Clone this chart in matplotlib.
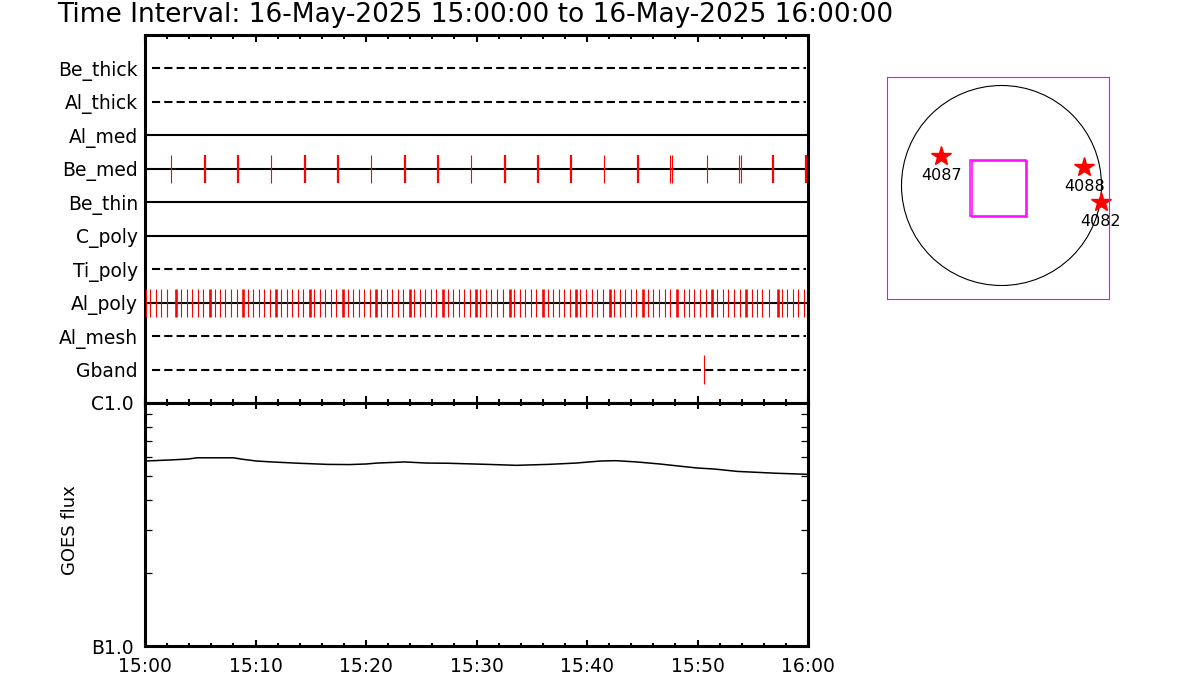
import numpy as np
import matplotlib
matplotlib.use('Agg')
import matplotlib.pyplot as plt
from matplotlib.ticker import MultipleLocator, FixedLocator, LogLocator, NullFormatter
from matplotlib.patches import Circle, Rectangle

# filter rows, top to bottom
filters = ['Be_thick', 'Al_thick', 'Al_med', 'Be_med', 'Be_thin',
           'C_poly', 'Ti_poly', 'Al_poly', 'Al_mesh', 'Gband']
dashed_rows = ['Be_thick', 'Al_thick', 'Ti_poly', 'Al_mesh', 'Gband']

# exposure times, minutes after 15:00 (wide = 1 for the heavier marks)
be_med_min = [2.38, 5.40, 8.39, 11.43, 14.45, 17.47, 20.48, 23.50, 26.49, 29.53, 32.55,
              35.57, 38.52, 41.57, 44.62, 47.54, 47.69, 50.89, 53.78, 53.94, 56.83, 59.79]
be_med_wide = [0, 1, 1, 0, 1, 1, 0, 1, 1, 0, 1, 1, 1, 0, 1, 0, 0, 0, 0, 0, 1, 1]

al_poly_min = [0.05, 0.48, 0.97, 1.48, 1.96, 2.83, 3.29, 3.77, 4.28, 4.77, 5.28, 5.87,
               6.30, 6.79, 7.27, 7.78, 8.30, 8.85, 9.29, 9.80, 10.29, 10.80, 11.28, 11.89,
               12.34, 12.82, 13.33, 13.82, 14.33, 14.92, 15.32, 15.84, 16.32, 16.83, 17.31,
               17.92, 18.34, 18.85, 19.34, 19.85, 20.33, 20.93, 21.33, 21.87, 22.38, 22.87,
               23.38, 24.00, 24.37, 24.89, 25.37, 25.85, 26.36, 26.95, 27.39, 27.90, 28.39,
               28.90, 29.38, 29.95, 30.35, 30.86, 31.34, 31.88, 32.43, 33.03, 33.42, 33.91,
               34.42, 34.90, 35.41, 36.02, 36.44, 36.92, 37.44, 37.95, 38.43, 39.00, 39.40,
               39.88, 40.42, 40.93, 41.48, 42.08, 42.47, 42.96, 43.47, 43.95, 44.46, 45.05,
               45.52, 46.00, 46.52, 47.06, 47.54, 48.17, 48.75, 49.23, 49.71, 50.20, 50.80,
               51.30, 51.76, 52.28, 52.76, 53.33, 53.88, 54.37, 54.93, 55.38, 55.87, 56.44,
               57.30, 57.65, 58.13, 58.61, 59.12, 59.64]
al_poly_wide = [0, 0, 0, 0, 0, 1, 0, 0, 0, 0, 0, 1,
                0, 0, 0, 0, 0, 1, 0, 0, 0, 0, 0, 1,
                0, 0, 0, 0, 0, 1, 0, 0, 0, 0, 0,
                1, 0, 0, 0, 0, 0, 1, 0, 0, 0, 0,
                0, 1, 0, 0, 0, 0, 0, 1, 0, 0, 0,
                0, 0, 1, 0, 0, 0, 0, 0, 1, 0, 0,
                0, 0, 0, 1, 0, 0, 0, 0, 0, 1, 0,
                0, 0, 0, 0, 1, 0, 0, 0, 0, 0, 1,
                0, 0, 0, 0, 0, 1, 0, 0, 0, 0, 0,
                1, 0, 0, 0, 0, 0, 1, 0, 0, 0, 0,
                1, 0, 0, 0, 0, 0]

gband_min = [50.62]

# GOES flux (units of 1e-7 W/m^2)
goes_min = [0, 2.3, 3.9, 4.7, 8.0, 8.8, 10.1, 11.5, 13.9, 16.5, 18.5, 20.0, 21.0, 23.5, 25.5,
            27.4, 31.0, 33.6, 36.5, 39.0, 41.2, 42.6, 44.5, 46.6, 48.5, 50.0, 51.5, 53.6,
            57.1, 59.8, 60.0]
goes_flux = [5.77, 5.83, 5.88, 5.95, 5.95, 5.87, 5.77, 5.72, 5.65, 5.59, 5.58, 5.61, 5.66,
             5.72, 5.66, 5.65, 5.59, 5.54, 5.59, 5.66, 5.77, 5.79, 5.72, 5.61, 5.49, 5.40,
             5.35, 5.23, 5.14, 5.09, 5.08]

time_labels = ['15:00', '15:10', '15:20', '15:30', '15:40', '15:50', '16:00']
title = 'Time Interval: 16-May-2025 15:00:00 to 16-May-2025 16:00:00'

# active regions on the disk (arcsec)
ar_names = ['4087', '4088', '4082']
ar_x = [-602, 828, 992]
ar_y = [295, 188, -162]

W, H = 1200, 700
fig = plt.figure(figsize=(12, 7), dpi=100)
fig.text(57 / W, 1 - 15 / H, title, fontsize=19, ha='left', va='center')

# ---- filter / exposure panel
ax1 = fig.add_axes([145 / W, 1 - 403 / H, 663 / W, 368 / H])
n = len(filters)
rows = [n - i for i in range(n)]
for name, y in zip(filters, rows):
	if name in dashed_rows:
		ax1.plot([0.6, 59.8], [y, y], color='k', lw=1.5, dashes=(3.9, 2.0))
	else:
		ax1.plot([0, 60], [y, y], color='k', lw=1.5)

def draw_marks(times, wide, y, thin=0.8, thick=1.6):
	lw = [thick if w else thin for w in wide]
	ax1.vlines(times, y - 0.42, y + 0.42, colors='#ff0000', linewidths=lw, zorder=3)

draw_marks(be_med_min, be_med_wide, rows[filters.index('Be_med')])
draw_marks(al_poly_min, al_poly_wide, rows[filters.index('Al_poly')], thick=1.9)
draw_marks(gband_min, [0], rows[filters.index('Gband')])

ax1.set_xlim(0, 60)
ax1.set_ylim(0, n + 1)
ax1.set_yticks(rows)
ax1.set_yticklabels(filters, fontsize=13.5)
ax1.tick_params(axis='y', length=0, pad=5)
ax1.xaxis.set_major_locator(MultipleLocator(10))
ax1.xaxis.set_minor_locator(MultipleLocator(2))
ax1.tick_params(axis='x', which='both', top=True, bottom=True, direction='in',
                labelbottom=False, width=1.5)
ax1.tick_params(axis='x', which='major', length=5)
ax1.tick_params(axis='x', which='minor', length=3)
for s in ax1.spines.values():
	s.set_linewidth(2.2)

# ---- GOES panel
ax2 = fig.add_axes([145 / W, 1 - 646 / H, 663 / W, 243 / H])
ax2.plot(goes_min, np.array(goes_flux) * 1e-7, color='k', lw=1.1)
ax2.set_yscale('log')
ax2.set_ylim(1e-7, 1e-6)
ax2.set_xlim(0, 60)
ax2.yaxis.set_major_locator(FixedLocator([1e-7, 1e-6]))
ax2.set_yticklabels(['B1.0', 'C1.0'], fontsize=13.5)
ax2.yaxis.set_minor_locator(LogLocator(base=10, subs=np.arange(2, 10)))
ax2.yaxis.set_minor_formatter(NullFormatter())
ax2.tick_params(axis='y', which='major', length=0, pad=8)
ax2.tick_params(axis='y', which='minor', left=True, right=True, direction='in',
                length=5, width=0.9)
ax2.set_xticks(range(0, 61, 10))
ax2.set_xticklabels(time_labels, fontsize=13.5)
ax2.xaxis.set_minor_locator(MultipleLocator(2))
ax2.tick_params(axis='x', which='both', top=True, bottom=True, direction='in', width=1.5)
ax2.tick_params(axis='x', which='major', length=4, pad=8)
ax2.tick_params(axis='x', which='minor', length=2)
for s in ax2.spines.values():
	s.set_linewidth(2.2)
fig.text(70 / W, 1 - 530 / H, 'GOES flux', fontsize=13, rotation=90, ha='center', va='center')

# ---- solar disk panel
ax3 = fig.add_axes([887 / W, 1 - 299 / H, 222 / W, 222 / H])
ax3.set_xlim(-1145, 1075)
ax3.set_ylim(-1135, 1085)
ax3.set_xticks([])
ax3.set_yticks([])
for s in ax3.spines.values():
	s.set_color('#ff00ff')
	s.set_linewidth(0.8)
ax3.add_patch(Circle((0, 0), 1000, fill=False, color='k', lw=0.8))
# XRT field of view
ax3.add_patch(Rectangle((-312, -305), 557, 557, fill=False, ec='#ff00ff', lw=1.1))
ax3.add_patch(Rectangle((-295, -315), 550, 560, fill=False, ec='#ff00ff', lw=1.1))
ax3.plot(ar_x, ar_y, ls='none', marker='*', color='#ff0000', ms=15, clip_on=False)
for name, x, y in zip(ar_names, ar_x, ar_y):
	ax3.text(x, y - 195, name, fontsize=11.5, ha='center', va='center', clip_on=False)

fig.savefig('out.png', dpi=100)
